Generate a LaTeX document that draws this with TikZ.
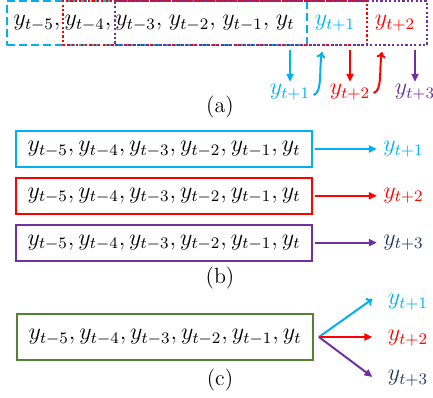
\documentclass[tikz,border=0pt]{standalone}
\usepackage{amsmath}
\usepackage{tikz}
\usetikzlibrary{arrows.meta,positioning,calc}
\definecolor{cyanc}{RGB}{0,176,240}
\definecolor{redc}{RGB}{255,0,0}
\definecolor{purc}{RGB}{112,48,160}
\definecolor{grnc}{RGB}{84,130,53}
\definecolor{navyc}{RGB}{32,56,100}
\newcommand{\seqall}{$y_{t-5}, y_{t-4}, y_{t-3}, y_{t-2}, y_{t-1}, y_t$}

\begin{document}
\begin{tikzpicture}[
    x=0.5pt, y=-0.5pt,
    every node/.style={font=\fontsize{12}{14}\selectfont, inner sep=1pt},
    caption/.style={font=\fontsize{11}{13}\selectfont},
    win/.style={rectangle, line width=1.2pt, minimum height=22pt, inner sep=0pt},
    seqbox/.style={draw, rectangle, line width=0.9pt, minimum width=148pt, minimum height=18pt},
    arr/.style={line width=1pt, -{Triangle[length=4pt,width=3.5pt]}},
    openarr/.style={line width=1pt, -{To[length=3pt,width=4.5pt]}}
]
    \useasboundingbox (0,0) rectangle (433,397);

    % (a) sliding windows
    \node[win, draw=cyanc, dash pattern=on 4pt off 2pt, minimum width=150pt] (winA) at (157,23) {};
    \node[win, draw=redc, dash pattern=on 1.1pt off 1.1pt, minimum width=152pt] (winB) at (215,23) {};
    \node[win, draw=purc, dash pattern=on 1.1pt off 1.1pt, minimum width=156pt] (winC) at (271,23) {};

    \node (s5) at (37,23) {$y_{t-5},$};
    \node (s4) at (88,23) {$y_{t-4},$};
    \node (s3) at (205,23) {$y_{t-3},\mkern2mu y_{t-2},\mkern2mu y_{t-1},\mkern2mu y_t$};
    \node[text=cyanc] (p1) at (335,23) {$y_{t+1}$};
    \node[text=redc] (p2) at (395,23) {$y_{t+2}$};

    % (a) outputs
    \node[text=cyanc] (la1) at (290,92) {$y_{t+1}$};
    \node[text=redc] (la2) at (350,92) {$y_{t+2}$};
    \node[text=purc] (la3) at (415,92) {$y_{t+3}$};
    \coordinate (inA) at (322,52);
    \coordinate (inB) at (382,52);

    \draw[arr, cyanc] ($(la1 |- winA.south)+(0,4)$) -- (la1.north);
    \draw[arr, redc] ($(la2 |- winA.south)+(0,4)$) -- (la2.north);
    \draw[arr, purc] ($(la3 |- winA.south)+(0,4)$) -- (la3.north);
    \draw[openarr, cyanc] ($(la1.east)+(1,3)$) .. controls +(9,-2) and +(-3,16) .. (inA);
    \draw[openarr, redc] ($(la2.east)+(1,1)$) .. controls +(9,-2) and +(-3,16) .. (inB);

    \node[caption] (capA) at (220,107) {(a)};

    % (b) one model per horizon
    \node[seqbox, draw=cyanc] (b1) at (164,149) {\seqall};
    \node[seqbox, draw=redc, below=4.5pt of b1] (b2) {\seqall};
    \node[seqbox, draw=purc, below=4.5pt of b2] (b3) {\seqall};

    \node[text=cyanc, right=34pt of b1] (ob1) {$y_{t+1}$};
    \node[text=redc, right=34pt of b2] (ob2) {$y_{t+2}$};
    \node[text=navyc, right=34pt of b3] (ob3) {$y_{t+3}$};

    \draw[arr, cyanc] ($(b1.east)+(2,0)$) -- ($(ob1.west)+(-4,0)$);
    \draw[arr, redc] ($(b2.east)+(2,0)$) -- ($(ob2.west)+(-4,0)$);
    \draw[arr, purc] ($(b3.east)+(2,0)$) -- ($(ob3.west)+(-4,0)$);

    \node[caption] (capB) at (220,278) {(b)};

    % (c) one model, all horizons
    \node[seqbox, draw=grnc, minimum height=23pt] (c1) at (165,337) {\seqall};
    \coordinate (fan) at ($(c1.east)+(5,0)$);

    \node[text=cyanc] (oc1) at (408,302) {$y_{t+1}$};
    \node[text=redc] (oc2) at (408,338) {$y_{t+2}$};
    \node[text=navyc] (oc3) at (408,378) {$y_{t+3}$};

    \draw[openarr, cyanc] (fan) -- ($(oc1.west)+(-13,-3)$);
    \draw[arr, redc] (fan) -- ($(fan -| oc2.west)+(-13,0)$);
    \draw[arr, purc] (fan) -- ($(oc3.west)+(-13,-1)$);

    \node[caption] (capC) at (220,380) {(c)};

\end{tikzpicture}
\end{document}
